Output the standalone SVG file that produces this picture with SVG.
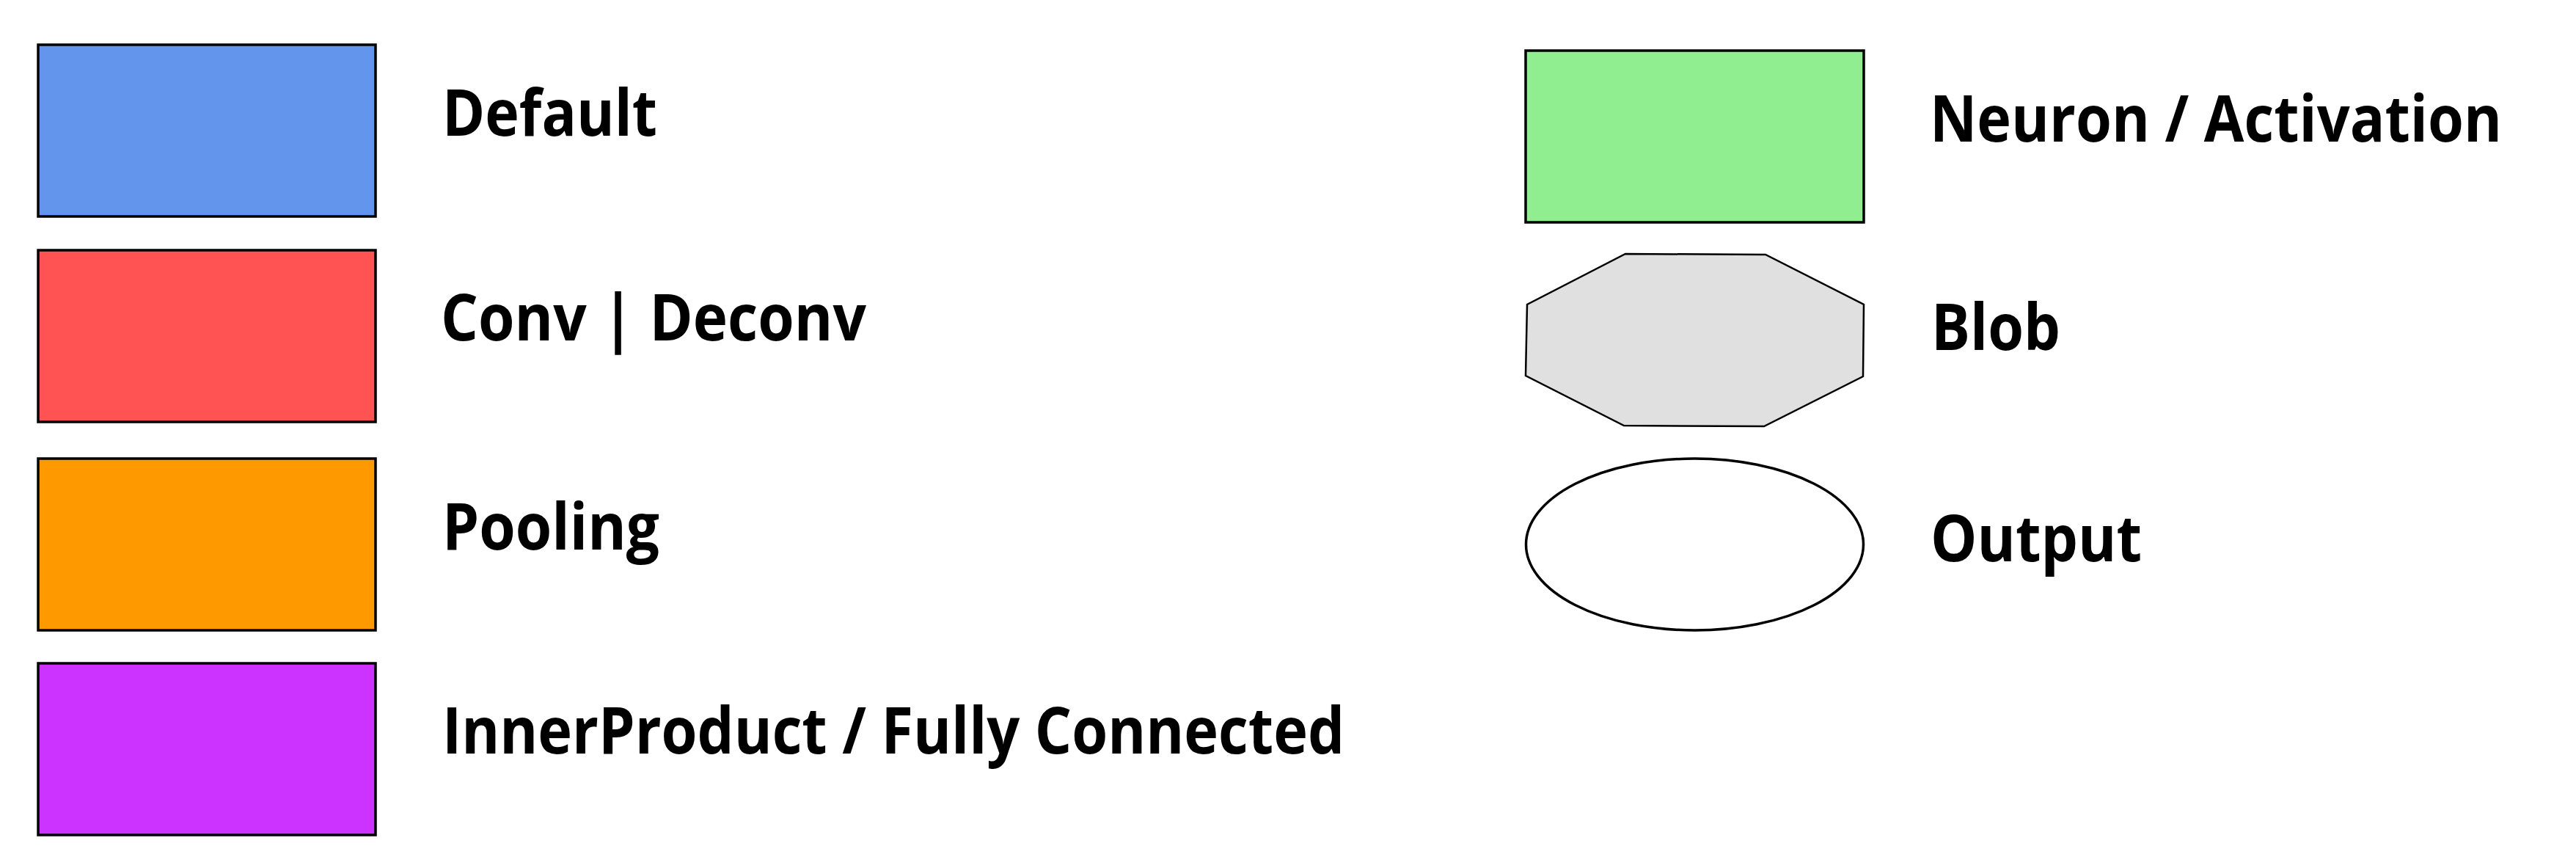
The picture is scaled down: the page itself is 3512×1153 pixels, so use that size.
<svg xmlns="http://www.w3.org/2000/svg" width="3512" height="1153" viewBox="0 0 3512 1153">
<style>
.box{stroke:#000;stroke-width:3.5}
.lbl{font-family:"Open Sans","Noto Sans","Liberation Sans",sans-serif;font-weight:bold;font-size:87px;fill:#000}
</style>
<rect x="0" y="0" width="3512" height="1153" fill="#fff"/>
<g id="default"><rect class="box" x="52" y="61" width="460" height="234" fill="#6495ED"/><text class="lbl" x="603" y="185" textLength="293" lengthAdjust="spacingAndGlyphs">Default</text></g>
<g id="conv"><rect class="box" x="52" y="341" width="460" height="234" fill="#FF5252"/><text class="lbl" x="601" y="464" textLength="580" lengthAdjust="spacingAndGlyphs">Conv | Deconv</text></g>
<g id="pooling"><rect class="box" x="52" y="625" width="460" height="234" fill="#FF9900"/><text class="lbl" x="603" y="749" textLength="296" lengthAdjust="spacingAndGlyphs">Pooling</text></g>
<g id="innerproduct"><rect class="box" x="52" y="904" width="460" height="234" fill="#CC33FF"/><text class="lbl" x="603" y="1027" textLength="1230" lengthAdjust="spacingAndGlyphs">InnerProduct / Fully Connected</text></g>
<g id="neuron"><rect class="box" x="2080" y="69" width="461" height="234" fill="#90EE90"/><text class="lbl" x="2631" y="193" textLength="780" lengthAdjust="spacingAndGlyphs">Neuron / Activation</text></g>
<g id="blob"><polygon points="2216,346 2407,347 2541,415 2540,513 2405,581 2214,580 2080,512 2082,415" fill="#E0E0E0" stroke="#000" stroke-width="2.5"/><text class="lbl" x="2633" y="477" textLength="176" lengthAdjust="spacingAndGlyphs">Blob</text></g>
<g id="output"><ellipse cx="2310.5" cy="742" rx="230" ry="117" fill="#fff" stroke="#000" stroke-width="3.5"/><text class="lbl" x="2632" y="765" textLength="288" lengthAdjust="spacingAndGlyphs">Output</text></g>
<g id="connectors"></g>
</svg>
